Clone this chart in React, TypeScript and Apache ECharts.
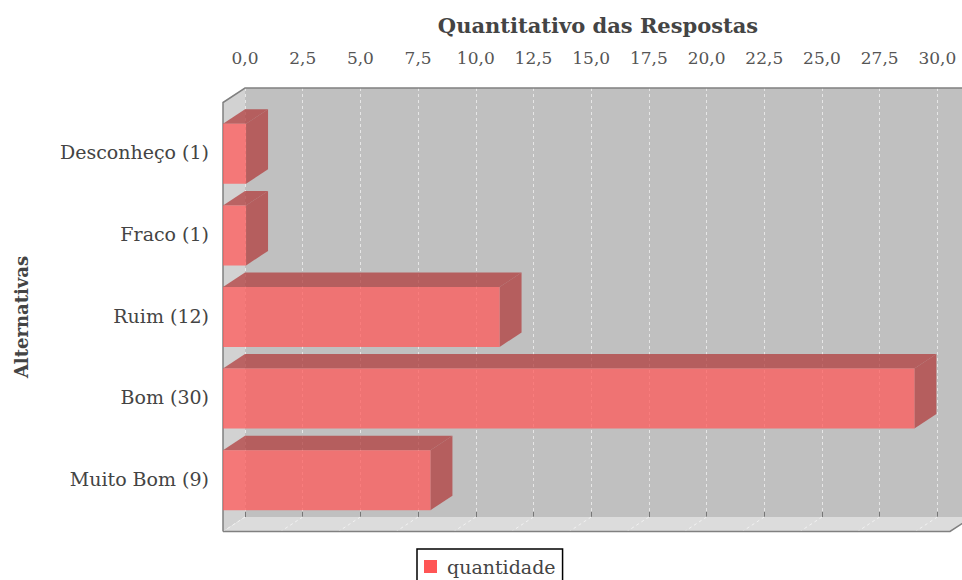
import React, { useEffect, useRef } from "react";
import * as echarts from "echarts";

const TITLE = "Quantitativo das Respostas";
const Y_NAME = "Alternativas";
const SERIES_NAME = "quantidade";
const categories = ["Desconheço (1)", "Fraco (1)", "Ruim (12)", "Bom (30)", "Muito Bom (9)"];
const values = [1, 1, 12, 30, 9];
const tickValues = [0, 2.5, 5, 7.5, 10, 12.5, 15, 17.5, 20, 22.5, 25, 27.5, 30];
const AXIS_MAX = 31.5;
const FONT = "'DejaVu Serif'";

export default function App() {
  const ref = useRef<HTMLDivElement>(null);
  useEffect(() => {
    document.body.style.margin = "0";
    document.body.style.overflow = "hidden";
    const chart = echarts.init(ref.current!, null, { renderer: "svg" });
    const DX = 22;
    const DY = 14.5;
    const line = "#808080";

    const renderWalls = (params: any, api: any) => {
      const cs = params.coordSys;
      const l = cs.x, t = cs.y, r = cs.x + cs.width, b = cs.y + cs.height;
      const floorLines = tickValues.map((v) => {
        const x = api.coord([v, 0])[0];
        return {
          type: "line",
          shape: { x1: x, y1: b, x2: x - DX, y2: b + DY },
          style: { stroke: "#f2f2f2", lineWidth: 1, lineDash: [3, 3] },
        };
      });
      return {
        type: "group",
        children: [
          { type: "polygon", shape: { points: [[l - DX, t + DY], [l, t], [l, b], [l - DX, b + DY]] }, style: { fill: "#d2d2d2" } },
          { type: "polygon", shape: { points: [[l - DX, b + DY], [l, b], [r, b], [r - DX, b + DY]] }, style: { fill: "#dcdcdc" } },
          ...floorLines,
          { type: "polyline", shape: { points: [[l - DX, b + DY], [l - DX, t + DY], [l, t], [r, t]] }, style: { fill: "none", stroke: line, lineWidth: 1.5 } },
          { type: "polyline", shape: { points: [[l - DX, b + DY], [r - DX, b + DY], [r, b]] }, style: { fill: "none", stroke: line, lineWidth: 1.5 } },
        ],
      };
    };

    const renderBar = (_params: any, api: any) => {
      const val = api.value(0);
      const cat = api.value(1);
      const [x1, cy] = api.coord([val, cat]);
      const [x0] = api.coord([0, cat]);
      const h = api.size([0, 1])[1] * 0.735;
      const top = cy - h / 2;
      const bot = cy + h / 2;
      const front = "rgba(255,90,90,0.75)";
      const side = "rgba(178,62,62,0.75)";
      return {
        type: "group",
        children: [
          { type: "polygon", shape: { points: [[x0, top], [x0 + DX, top - DY], [x1 + DX, top - DY], [x1, top]] }, style: { fill: side } },
          { type: "polygon", shape: { points: [[x1, top], [x1 + DX, top - DY], [x1 + DX, bot - DY], [x1, bot]] }, style: { fill: side } },
          { type: "rect", shape: { x: x0, y: top, width: x1 - x0, height: h }, style: { fill: front } },
        ],
      };
    };

    chart.setOption({
      animation: false,
      backgroundColor: "#ffffff",
      textStyle: { fontFamily: FONT },
      title: {
        text: TITLE,
        left: 593,
        top: 10,
        textAlign: "center",
        textStyle: { fontFamily: FONT, fontSize: 21, fontWeight: "bold", color: "#444444" },
      },
      legend: {
        data: [{ name: SERIES_NAME, itemStyle: { color: "#ff5555", opacity: 1 } }],
        left: 417,
        top: 549,
        icon: "rect",
        itemWidth: 13,
        itemHeight: 13,
        itemGap: 0,
        padding: [8, 7, 8, 7],
        borderColor: "#000000",
        borderWidth: 1.5,
        selectedMode: false,
        textStyle: { fontFamily: FONT, fontSize: 19, color: "#444444", padding: [0, 0, 0, 5] },
      },
      grid: [
        { left: 245, top: 88, width: 727, height: 429, show: true, backgroundColor: "#c0c0c0", borderWidth: 0, outerBoundsMode: "none" },
        { left: 223, top: 113, width: 726, height: 408, show: false, outerBoundsMode: "none" },
      ],
      xAxis: [
        {
          type: "value",
          gridIndex: 0,
          position: "top",
          offset: 7,
          min: 0,
          max: AXIS_MAX,
          interval: 2.5,
          axisLine: { show: false },
          axisTick: { show: true, length: 5, lineStyle: { color: "#777777", width: 1 } },
          axisLabel: {
            showMaxLabel: false,
            margin: 15,
            fontFamily: FONT,
            fontSize: 17,
            color: "#555555",
            formatter: (v: number) => v.toFixed(1).replace(".", ","),
          },
          splitLine: { show: true, showMaxLine: false, lineStyle: { color: "#e6e6e6", type: [3, 3], width: 1 } },
        },
        { type: "value", gridIndex: 1, min: 0, max: AXIS_MAX, show: false },
      ],
      yAxis: [
        { type: "value", gridIndex: 0, min: 0, max: 1, show: false },
        {
          type: "category",
          gridIndex: 1,
          inverse: true,
          data: categories,
          axisLine: { show: false },
          axisTick: { show: false },
          axisLabel: {
            margin: 14,
            fontFamily: FONT,
            fontSize: 19,
            color: "#444444",
            formatter: (v: string) => `{a|${v}}`,
            rich: { a: { fontFamily: FONT, fontSize: 19, color: "#444444", padding: [0, 0, 3, 0] } },
          },
          name: Y_NAME,
          nameLocation: "center",
          nameGap: 193,
          nameRotate: 90,
          nameTextStyle: { fontFamily: FONT, fontSize: 18, fontWeight: "bold", color: "#444444" },
        },
      ],
      series: [
        {
          type: "custom",
          name: "walls",
          xAxisIndex: 0,
          yAxisIndex: 0,
          data: [[0, 0]],
          clip: false,
          silent: true,
          z: 3,
          renderItem: renderWalls,
        },
        {
          type: "custom",
          name: SERIES_NAME,
          xAxisIndex: 1,
          yAxisIndex: 1,
          data: values.map((v, i) => [v, i]),
          encode: { x: 0, y: 1 },
          clip: false,
          silent: true,
          z: 5,
          itemStyle: { color: "#ff5555" },
          renderItem: renderBar,
        },
      ],
    });
    return () => chart.dispose();
  }, []);
  return <div ref={ref} style={{ width: 962, height: 580 }} />;
}
